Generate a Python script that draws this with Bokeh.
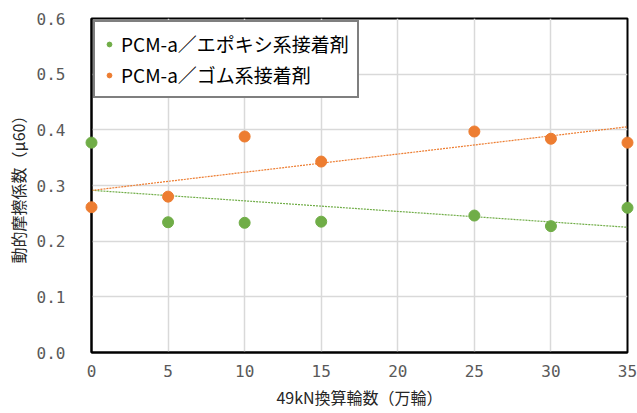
import numpy as np
from bokeh.plotting import figure
from bokeh.models import ColumnDataSource, Legend, LegendItem, Range1d, FixedTicker, NumeralTickFormatter
from bokeh.embed import file_html
from bokeh.resources import INLINE

# 49kN換算輪数（万輪）
wheels = [0, 5, 10, 15, 25, 30, 35]
# 動的摩擦係数 μ60
epoxy = [0.377, 0.234, 0.233, 0.235, 0.246, 0.227, 0.260]
rubber = [0.261, 0.280, 0.388, 0.343, 0.397, 0.384, 0.377]

series_names = ["PCM-a／エポキシ系接着剤", "PCM-a／ゴム系接着剤"]
colors = ["#70AD47", "#ED7D31"]

FONT = "Noto Sans CJK JP"
TICK_FONT = "DejaVu Sans Mono"

p = figure(width=637, height=413, output_backend="svg", toolbar_location=None,
           x_range=Range1d(0, 35), y_range=Range1d(0, 0.6),
           min_border_left=91, min_border_right=10, min_border_top=18, min_border_bottom=61)

p.background_fill_color = "white"
p.border_fill_color = "white"
p.outline_line_color = "black"
p.outline_line_width = 2

p.xaxis.ticker = FixedTicker(ticks=list(range(0, 36, 5)))
p.yaxis.ticker = FixedTicker(ticks=[0.0, 0.1, 0.2, 0.3, 0.4, 0.5, 0.6])
p.yaxis.formatter = NumeralTickFormatter(format="0.0")

for ax in (p.xaxis[0], p.yaxis[0]):
    ax.axis_line_color = "black"
    ax.axis_line_width = 2
    ax.major_tick_line_color = None
    ax.minor_tick_line_color = None
    ax.major_label_text_font = TICK_FONT
    ax.major_label_text_font_size = "16px"
    ax.major_label_text_color = "#595959"
    ax.axis_label_text_font = FONT
    ax.axis_label_text_font_size = "16px"
    ax.axis_label_text_font_style = "normal"
    ax.axis_label_text_color = "#262626"

p.xaxis.axis_label = "49kN換算輪数（万輪）"
p.yaxis.axis_label = "動的摩擦係数（μ60）"
p.xaxis.major_label_standoff = 6
p.yaxis.major_label_standoff = 20
p.xaxis.axis_label_standoff = 5
p.yaxis.axis_label_standoff = 4

p.xgrid.grid_line_color = "#D9D9D9"
p.ygrid.grid_line_color = "#D9D9D9"
p.xgrid.grid_line_width = 1.5
p.ygrid.grid_line_width = 1.5

x = np.array(wheels, dtype=float)
items = []
for name, ys, c in zip(series_names, [epoxy, rubber], colors):
    y = np.array(ys)
    # linear trend line
    slope, intercept = np.polyfit(x, y, 1)
    xt = np.array([0.0, 35.0])
    p.line(xt, slope * xt + intercept, line_color=c, line_width=1.2, line_dash="2 1")
    src = ColumnDataSource(dict(x=wheels, y=ys))
    r = p.scatter("x", "y", source=src, size=11, fill_color=c, line_color=c, level="overlay")
    items.append(LegendItem(label=name, renderers=[r]))

legend = Legend(items=items, location="top_left", orientation="vertical",
                label_text_font=FONT, label_text_font_size="19px", label_text_color="#000000",
                border_line_color="black", border_line_width=2,
                background_fill_alpha=1.0, glyph_width=12, glyph_height=12,
                spacing=4, padding=8, margin=2, label_standoff=6)
p.add_layout(legend, "center")

open("out.html", "w").write(file_html(p, INLINE))
